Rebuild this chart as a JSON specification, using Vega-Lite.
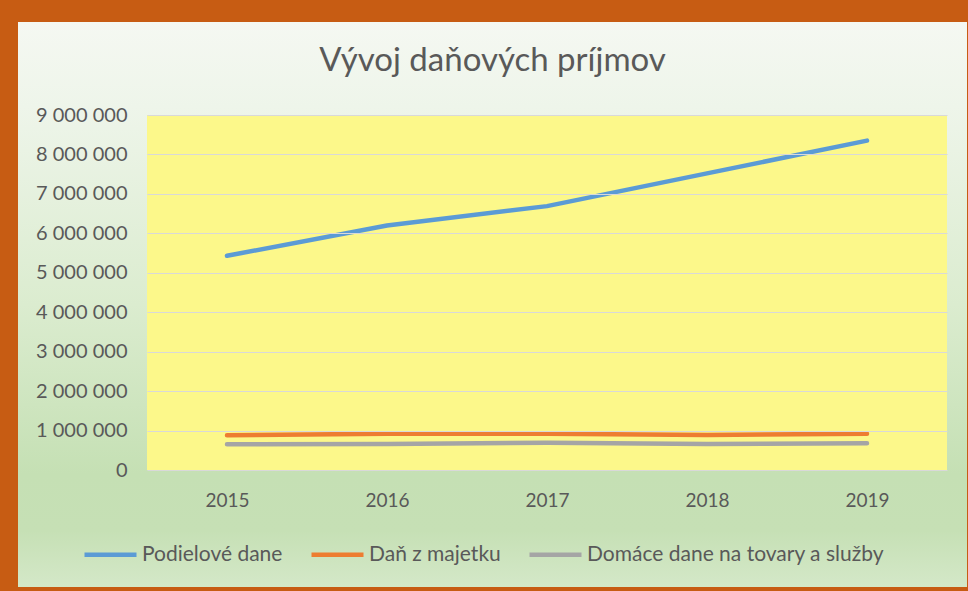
{
  "$schema": "https://vega.github.io/schema/vega-lite/v6.json",
  "width": 949,
  "height": 565,
  "autosize": {"type": "none"},
  "padding": {"left": 18, "top": 22, "right": 1, "bottom": 4},
  "background": "#c75c13",
  "view": {
    "stroke": null,
    "fill": {
      "gradient": "linear",
      "x1": 0, "y1": 0, "x2": 0, "y2": 1,
      "stops": [
        {"offset": 0, "color": "#f5f8f2"},
        {"offset": 0.15, "color": "#eef5ea"},
        {"offset": 0.5, "color": "#dbeccf"},
        {"offset": 0.8, "color": "#c5e0b4"},
        {"offset": 0.9, "color": "#c6e0b5"},
        {"offset": 1, "color": "#d4e8c8"}
      ]
    }
  },
  "title": {
    "text": "Vývoj daňových príjmov",
    "frame": "group",
    "anchor": "middle",
    "baseline": "alphabetic",
    "offset": 0,
    "dy": 82,
    "font": "Lato",
    "fontSize": 33,
    "fontWeight": "normal",
    "color": "#595959"
  },
  "layer": [
    {
      "data": {"values": [{}]},
      "mark": {"type": "rect", "color": "#fcf88a"},
      "encoding": {
        "x": {"datum": 2014.5, "type": "quantitative"},
        "x2": {"datum": 2019.5},
        "y": {"datum": 0, "type": "quantitative"},
        "y2": {"datum": 9000000}
      }
    },
    {
      "data": {
        "values": [
          {"rok": 2015, "kategoria": "Podielové dane", "hodnota": 5430000},
          {"rok": 2016, "kategoria": "Podielové dane", "hodnota": 6200000},
          {"rok": 2017, "kategoria": "Podielové dane", "hodnota": 6690000},
          {"rok": 2018, "kategoria": "Podielové dane", "hodnota": 7520000},
          {"rok": 2019, "kategoria": "Podielové dane", "hodnota": 8350000},
          {"rok": 2015, "kategoria": "Daň z majetku", "hodnota": 880000},
          {"rok": 2016, "kategoria": "Daň z majetku", "hodnota": 920000},
          {"rok": 2017, "kategoria": "Daň z majetku", "hodnota": 920000},
          {"rok": 2018, "kategoria": "Daň z majetku", "hodnota": 890000},
          {"rok": 2019, "kategoria": "Daň z majetku", "hodnota": 920000},
          {"rok": 2015, "kategoria": "Domáce dane na tovary a služby", "hodnota": 650000},
          {"rok": 2016, "kategoria": "Domáce dane na tovary a služby", "hodnota": 660000},
          {"rok": 2017, "kategoria": "Domáce dane na tovary a služby", "hodnota": 690000},
          {"rok": 2018, "kategoria": "Domáce dane na tovary a služby", "hodnota": 660000},
          {"rok": 2019, "kategoria": "Domáce dane na tovary a služby", "hodnota": 680000}
        ]
      },
      "mark": {"type": "line", "strokeWidth": 4.5, "strokeCap": "round", "strokeJoin": "round"},
      "encoding": {
        "x": {
          "field": "rok",
          "type": "quantitative",
          "scale": {"domain": [2014.5, 2019.5], "range": [129, 929], "nice": false, "zero": false},
          "axis": {
            "title": null,
            "values": [2015, 2016, 2017, 2018, 2019],
            "format": "d",
            "grid": false,
            "offset": -117,
            "labelPadding": 21
          }
        },
        "y": {
          "field": "hodnota",
          "type": "quantitative",
          "scale": {"domain": [0, 9000000], "range": [448, 93], "nice": false, "zero": false},
          "axis": {
            "title": null,
            "values": [0, 1000000, 2000000, 3000000, 4000000, 5000000, 6000000, 7000000, 8000000, 9000000],
            "format": ",d",
            "grid": true,
            "zindex": 1,
            "offset": -129,
            "labelPadding": 20,
            "labelFontSize": 20
          }
        },
        "color": {
          "field": "kategoria",
          "type": "nominal",
          "scale": {
            "domain": ["Podielové dane", "Daň z majetku", "Domáce dane na tovary a služby"],
            "range": ["#5b9bd5", "#ed7d31", "#a5a5a5"]
          },
          "legend": {
            "title": null,
            "orient": "none",
            "legendX": 64,
            "legendY": 504,
            "direction": "horizontal",
            "symbolType": "stroke",
            "symbolSize": 2704,
            "symbolStrokeWidth": 4.5,
            "labelFont": "Lato",
            "labelFontSize": 21,
            "labelColor": "#595959",
            "labelLimit": 0,
            "labelOffset": 3,
            "columnPadding": 19
          }
        }
      }
    }
  ],
  "config": {
    "font": "Lato",
    "locale": {"number": {"decimal": ",", "thousands": " ", "grouping": [3], "currency": ["", " €"]}},
    "axis": {
      "labelFont": "Lato",
      "labelFontSize": 19,
      "labelColor": "#595959",
      "ticks": false,
      "domain": false,
      "gridColor": "#d9d9d9",
      "gridWidth": 1
    }
  }
}
